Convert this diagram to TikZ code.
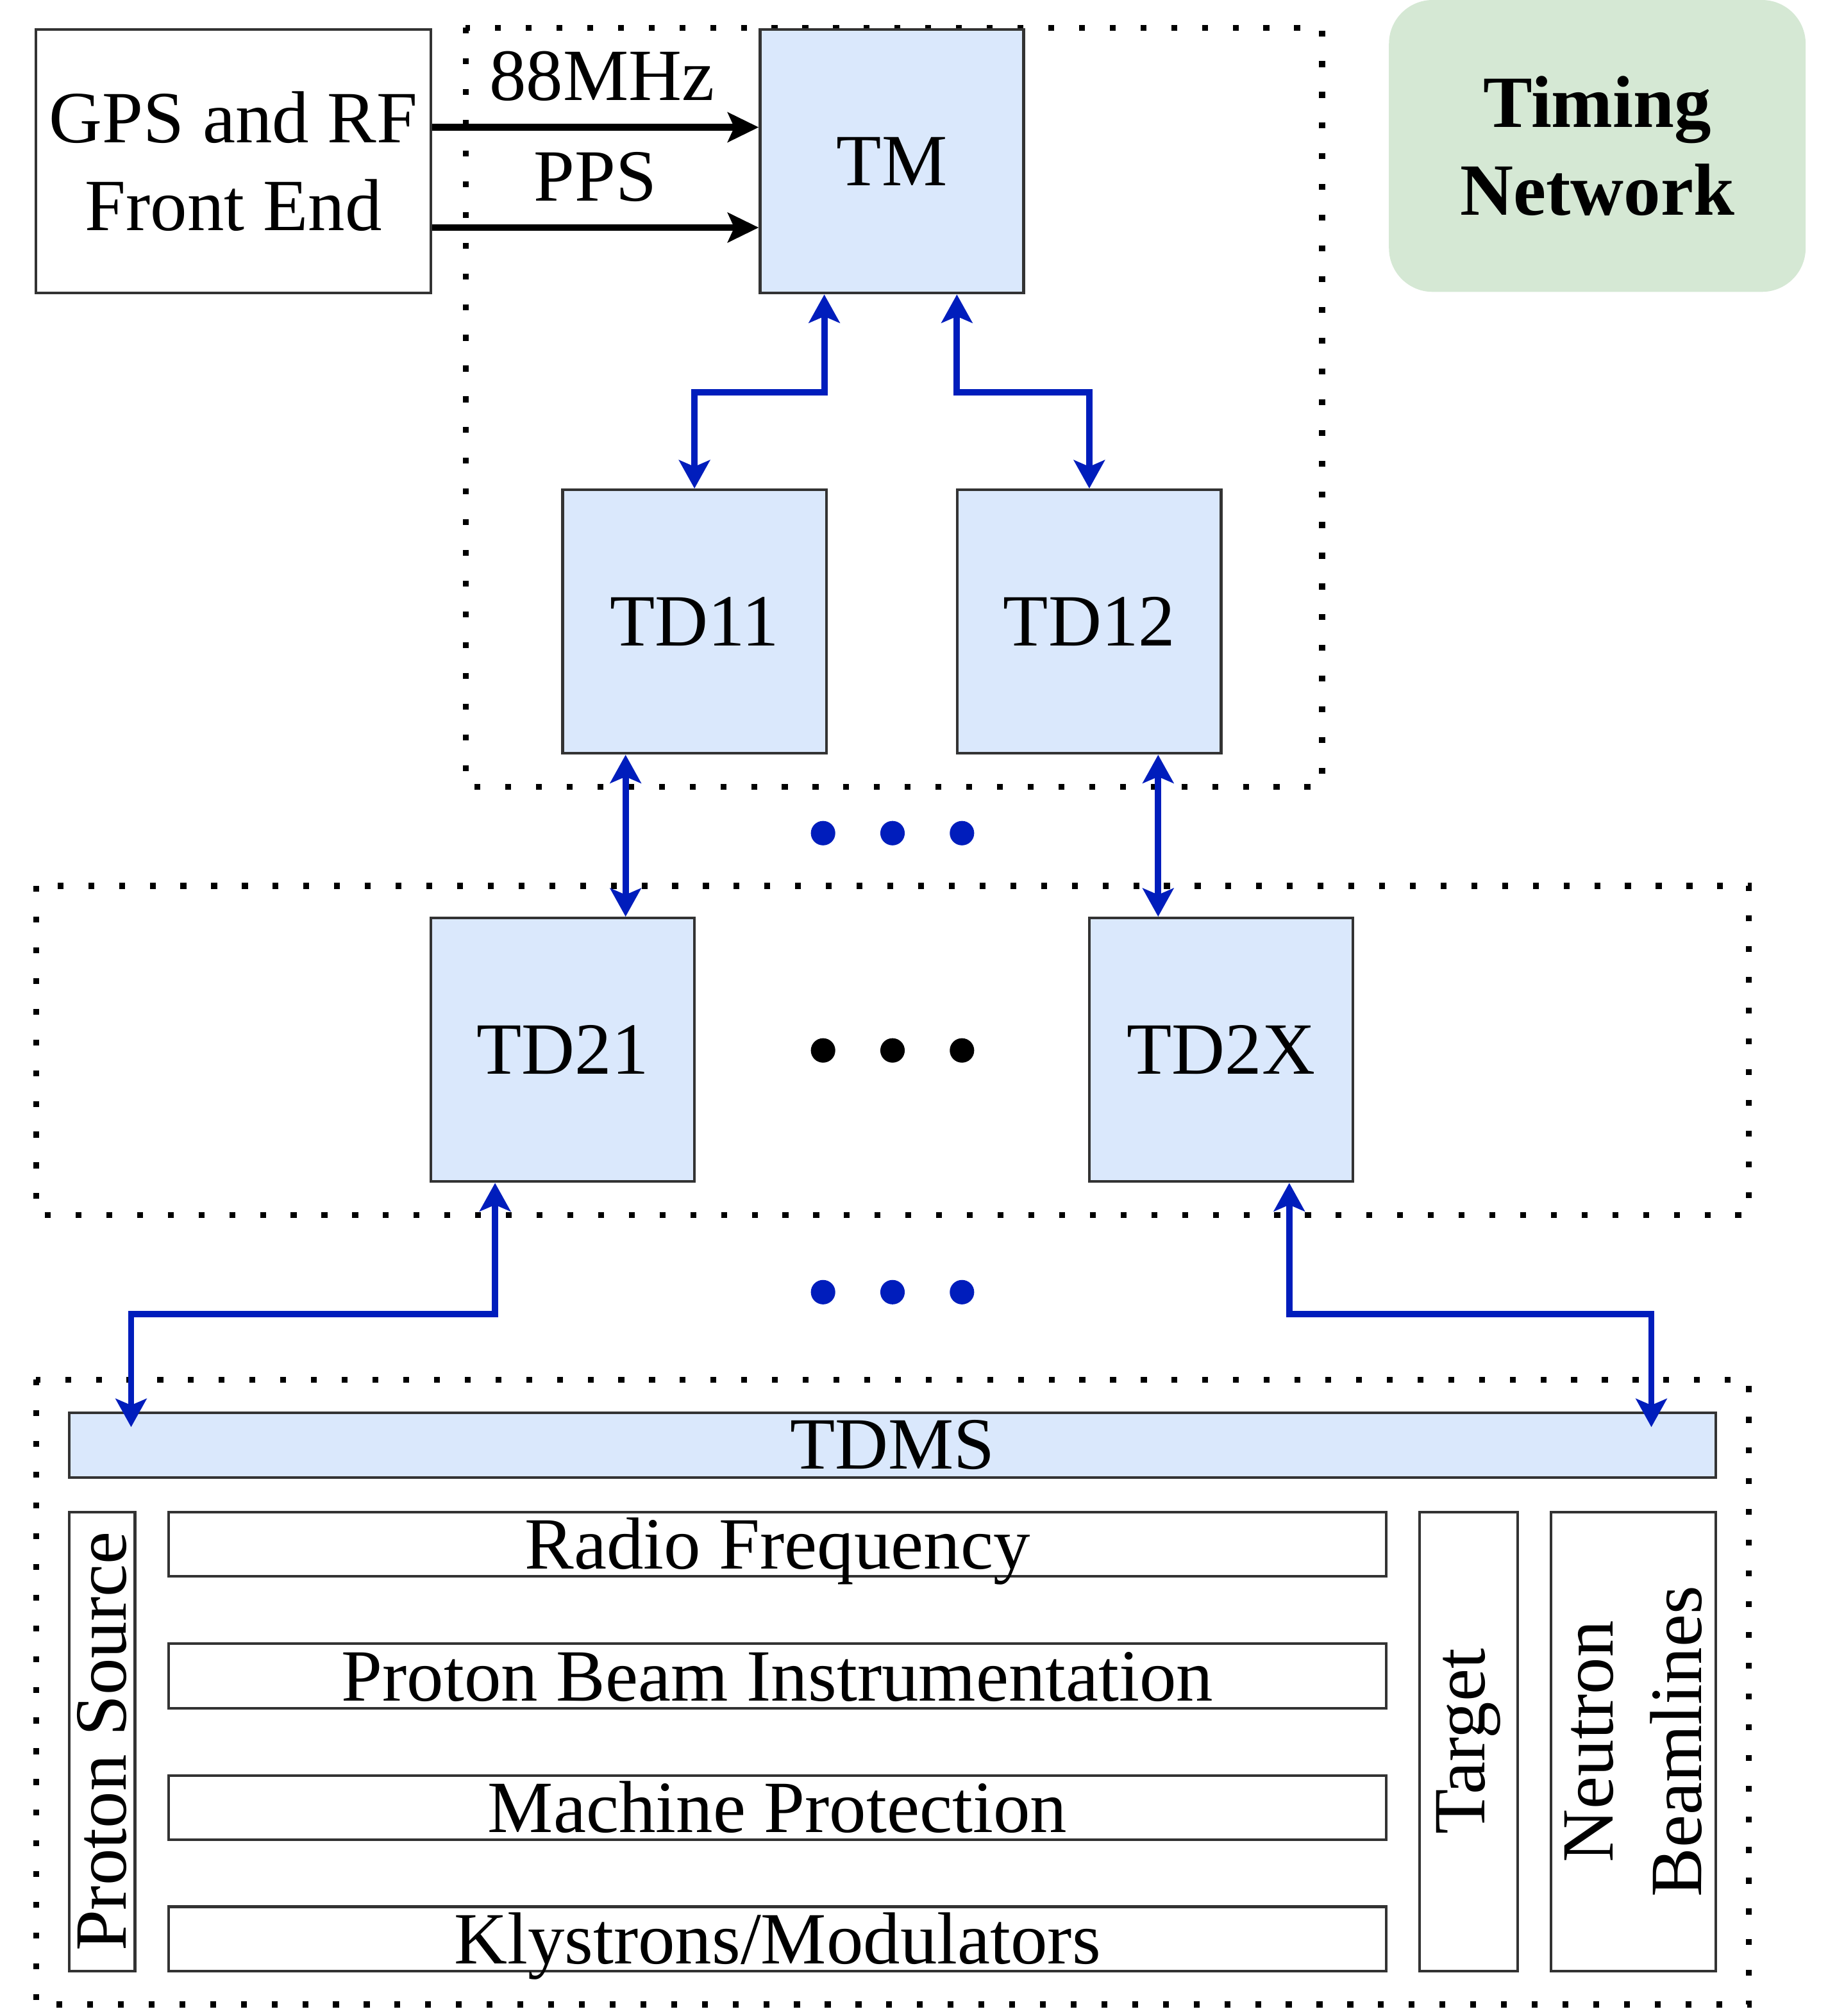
\documentclass[tikz,border=0pt]{standalone}
\usepackage{fontspec}
\setmainfont{Liberation Serif}
\usepackage{xcolor}
\usetikzlibrary{positioning, arrows.meta}
\definecolor{tdblue}{HTML}{DAE8FC}
\definecolor{tngreen}{HTML}{D5E8D4}
\definecolor{linkblue}{HTML}{001DBC}

\tikzset{
  unit/.style={draw=black!80, line width=0.6pt, fill=tdblue, minimum width=2.05cm, minimum height=2.05cm, inner sep=0pt},
  sys/.style={draw=black!80, line width=0.6pt, fill=white, inner sep=0pt},
  row/.style={sys, minimum width=9.47cm, minimum height=0.50cm, text height=14.6pt, text depth=3.6pt, inner ysep=-2pt},
  group/.style={line width=1.3pt, dash pattern=on 1.3pt off 5.5pt},
  sig/.style={-{Stealth[length=0.24cm, width=0.23cm, inset=0.05cm]}, line width=1.5pt},
  link/.style={{Stealth[length=0.22cm, width=0.24cm, inset=0.05cm]}-{Stealth[length=0.22cm, width=0.24cm, inset=0.05cm]}, draw=linkblue, line width=1.4pt},
}

\begin{document}
\begin{tikzpicture}[font=\fontsize{16.3}{19.5}\selectfont]
  \useasboundingbox (0,0) rectangle (14.21,-15.68);

  % Groups
  \draw[group] (3.62,-0.215) rectangle (10.28,-6.12);
  \draw[group] (0.28,-6.89) rectangle (13.60,-9.45);
  \draw[group] (0.28,-10.73) rectangle (13.60,-15.59);

  % Title
  \node[fill=tngreen, rounded corners=0.34cm, minimum width=3.24cm, minimum height=2.27cm, align=center, font=\fontsize{16.3}{19.5}\selectfont\bfseries] (title) at (12.42,-1.135) {Timing\\Network};

  % Source and master
  \node[sys, minimum width=3.07cm, minimum height=2.05cm, align=center] (gps) at (1.815,-1.255) {GPS and RF\\Front End};
  \node[unit] (tm) at (6.935,-1.255) {TM};

  % First level
  \node[unit] (td11) at (5.40,-4.835) {TD11};
  \node[unit] (td12) at (8.47,-4.835) {TD12};

  % Second level
  \node[unit] (td21) at (4.375,-8.165) {TD21};
  \node[unit] (td2x) at (9.495,-8.165) {TD2X};

  % Subsystems
  \node[unit, minimum width=12.80cm, minimum height=0.50cm] (tdms) at (6.94,-11.24) {TDMS};
  \node[sys, rotate=90, minimum width=3.57cm, minimum height=0.51cm] (psrc) at (0.795,-13.545) {Proton Source};
  \node[row] (rf) at (6.045,-12.01) {Radio Frequency};
  \node[row] (pbi) at (6.045,-13.035) {Proton Beam Instrumentation};
  \node[row] (mp) at (6.045,-14.06) {Machine Protection};
  \node[row] (kly) at (6.045,-15.08) {Klystrons/Modulators};
  \node[sys, rotate=90, minimum width=3.57cm, minimum height=0.76cm] (tgt) at (11.42,-13.545) {Target};
  \node[sys, rotate=90, minimum width=3.57cm, minimum height=1.28cm, align=center] (nbl) at (12.70,-13.545) {Neutron\\Beamlines};

  % Clock and PPS
  \draw[sig] ([yshift=0.265cm]gps.east) -- ([yshift=0.265cm]tm.west) node[midway, above, xshift=0.05cm, yshift=0.06cm] {88MHz};
  \draw[sig] ([yshift=-0.515cm]gps.east) -- ([yshift=-0.515cm]tm.west) node[midway, above, yshift=0.06cm] {PPS};

  % Links
  \draw[link] ([xshift=0.51cm]tm.south west) -- ++(0,-0.76) -| (td11.north);
  \draw[link] ([xshift=-0.53cm]tm.south east) -- ++(0,-0.76) -| (td12.north);
  \draw[link] ([xshift=0.50cm]td11.south west) -- ([xshift=0.50cm]td11.south west |- td21.north);
  \draw[link] ([xshift=-0.50cm]td12.south east) -- ([xshift=-0.50cm]td12.south east |- td2x.north);
  \draw[link] ([xshift=0.51cm]td21.south west) -- ++(0,-1.02) -| ([xshift=0.49cm, yshift=-0.12cm]tdms.north west);
  \draw[link] ([xshift=0.53cm]td2x.south) -- ++(0,-1.02) -| ([xshift=-0.51cm, yshift=-0.12cm]tdms.north east);

  % Ellipses
  \foreach \x in {6.40,6.94,7.48} {
    \fill[linkblue] (\x,-6.48) circle (0.095);
    \fill[black] (\x,-8.17) circle (0.095);
    \fill[linkblue] (\x,-10.05) circle (0.095);
  }
\end{tikzpicture}
\end{document}
